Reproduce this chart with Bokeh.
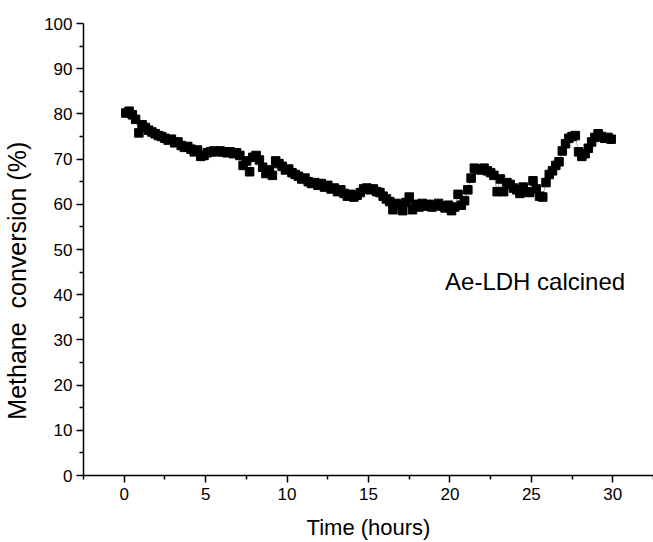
from bokeh.plotting import figure
from bokeh.models import Range1d, FixedTicker, Label
from bokeh.embed import file_html
from bokeh.resources import INLINE

time_h = [0.1, 0.3, 0.5, 0.7, 0.9, 1.1, 1.3, 1.5, 1.7, 1.9,
          2.1, 2.3, 2.5, 2.7, 2.9, 3.1, 3.3, 3.5, 3.7, 3.9,
          4.1, 4.3, 4.5, 4.7, 4.9, 5.1, 5.3, 5.5, 5.7, 5.9,
          6.1, 6.3, 6.5, 6.7, 6.9, 7.1, 7.3, 7.5, 7.7, 7.9,
          8.1, 8.3, 8.5, 8.7, 8.9, 9.1, 9.3, 9.5, 9.7, 9.9,
          10.1, 10.3, 10.5, 10.7, 10.9, 11.1, 11.3, 11.5, 11.7, 11.9,
          12.1, 12.3, 12.5, 12.7, 12.9, 13.1, 13.3, 13.5, 13.7, 13.9,
          14.1, 14.3, 14.5, 14.7, 14.9, 15.1, 15.3, 15.5, 15.7, 15.9,
          16.1, 16.3, 16.5, 16.7, 16.9, 17.1, 17.3, 17.5, 17.7, 17.9,
          18.1, 18.3, 18.5, 18.7, 18.9, 19.1, 19.3, 19.5, 19.7, 19.9,
          20.1, 20.3, 20.5, 20.7, 20.9, 21.1, 21.3, 21.5, 21.7, 21.9,
          22.1, 22.3, 22.5, 22.7, 22.9, 23.1, 23.3, 23.5, 23.7, 23.9,
          24.1, 24.3, 24.5, 24.7, 24.9, 25.1, 25.3, 25.5, 25.7, 25.9,
          26.1, 26.3, 26.5, 26.7, 26.9, 27.1, 27.3, 27.5, 27.7, 27.9,
          28.1, 28.3, 28.5, 28.7, 28.9, 29.1, 29.3, 29.5, 29.7, 29.9]

conversion = [80.2, 80.6, 79.8, 78.8, 75.8, 77.6, 77.0, 76.4, 76.0, 75.6,
              75.2, 75.0, 74.6, 74.2, 74.4, 73.6, 73.8, 73.0, 72.6, 72.8,
              72.2, 71.6, 72.0, 70.6, 70.8, 71.4, 71.6, 71.8, 71.6, 71.8,
              71.6, 71.4, 71.6, 71.2, 71.4, 70.8, 68.6, 69.6, 67.2, 70.4,
              70.8, 69.8, 68.2, 66.8, 67.6, 66.4, 69.6, 69.0, 68.4, 67.6,
              67.8, 67.0, 66.6, 66.2, 65.6, 65.8, 65.0, 64.6, 64.8, 64.2,
              64.6, 63.8, 64.2, 63.4, 63.6, 62.8, 63.2, 62.4, 61.8, 62.2,
              61.6, 62.0, 62.6, 63.4, 63.6, 63.2, 63.4, 62.8, 62.6, 61.8,
              61.2, 60.6, 58.8, 60.2, 59.8, 58.6, 60.4, 61.6, 58.8, 60.0,
              59.4, 60.2, 59.6, 60.0, 59.4, 59.8, 60.2, 59.6, 59.2, 59.8,
              58.6, 59.4, 62.2, 59.8, 60.8, 63.2, 65.8, 68.0, 67.8, 67.6,
              68.0, 67.4, 67.0, 66.4, 62.8, 65.6, 62.8, 64.8, 64.4, 63.6,
              63.2, 62.4, 63.8, 62.8, 62.6, 65.2, 63.4, 61.8, 61.6, 64.8,
              66.6, 67.4, 68.6, 69.4, 71.8, 73.4, 74.6, 75.0, 75.2, 71.6,
              70.6, 71.2, 72.4, 73.8, 74.8, 75.6, 75.0, 74.6, 74.8, 74.4]

x_ticks = [0, 5, 10, 15, 20, 25, 30]
x_minor = [-2.5, 2.5, 7.5, 12.5, 17.5, 22.5, 27.5, 32.5]
y_ticks = [0, 10, 20, 30, 40, 50, 60, 70, 80, 90, 100]
y_minor = [5, 15, 25, 35, 45, 55, 65, 75, 85, 95]

FONT = "Liberation Sans"
NB = "\u00a0"
Y_LABEL = "Methane" + NB * 2 + "conversion" + NB + "(%)" + NB * 9

p = figure(width=653, height=542, output_backend="svg", toolbar_location=None,
           x_range=Range1d(-2.5, 32.5), y_range=Range1d(0, 100),
           min_border_left=83, min_border_right=0, min_border_top=23,
           min_border_bottom=65)
p.outline_line_color = None
p.xgrid.visible = False
p.ygrid.visible = False
p.background_fill_color = "white"
p.border_fill_color = "white"

p.line(time_h, conversion, line_width=0.6, color="black", alpha=0.6)
p.scatter(time_h, conversion, marker="square", size=8.5,
          fill_color="black", line_color="black")

for ax in (p.xaxis[0], p.yaxis[0]):
    ax.axis_line_width = 1.5
    ax.axis_line_color = "black"
    ax.major_tick_line_width = 1.5
    ax.minor_tick_line_width = 1.5
    ax.major_tick_in = 0
    ax.major_tick_out = 7
    ax.minor_tick_in = 0
    ax.minor_tick_out = 4
    ax.major_label_text_font = FONT
    ax.major_label_text_font_size = "17px"
    ax.major_label_text_color = "black"
    ax.axis_label_text_font = FONT
    ax.axis_label_text_font_style = "normal"
    ax.axis_label_text_color = "black"

p.xaxis.axis_label_text_font_size = "22px"
p.xaxis.axis_label_text_line_height = 0.75
p.yaxis.axis_label_text_font_size = "25px"
p.xaxis.ticker = FixedTicker(ticks=x_ticks, minor_ticks=x_minor)
p.yaxis.ticker = FixedTicker(ticks=y_ticks, minor_ticks=y_minor)
p.xaxis.axis_label = "Time (hours)"
p.yaxis.axis_label = Y_LABEL
p.xaxis.major_label_standoff = 5
p.yaxis.major_label_standoff = 4
p.xaxis.axis_label_standoff = 12
p.yaxis.axis_label_standoff = 10

p.add_layout(Label(x=19.7, y=43, text="Ae-LDH calcined", text_font=FONT,
                   text_font_size="24px", text_baseline="middle",
                   text_color="black"))

open("out.html", "w").write(file_html(p, INLINE))
